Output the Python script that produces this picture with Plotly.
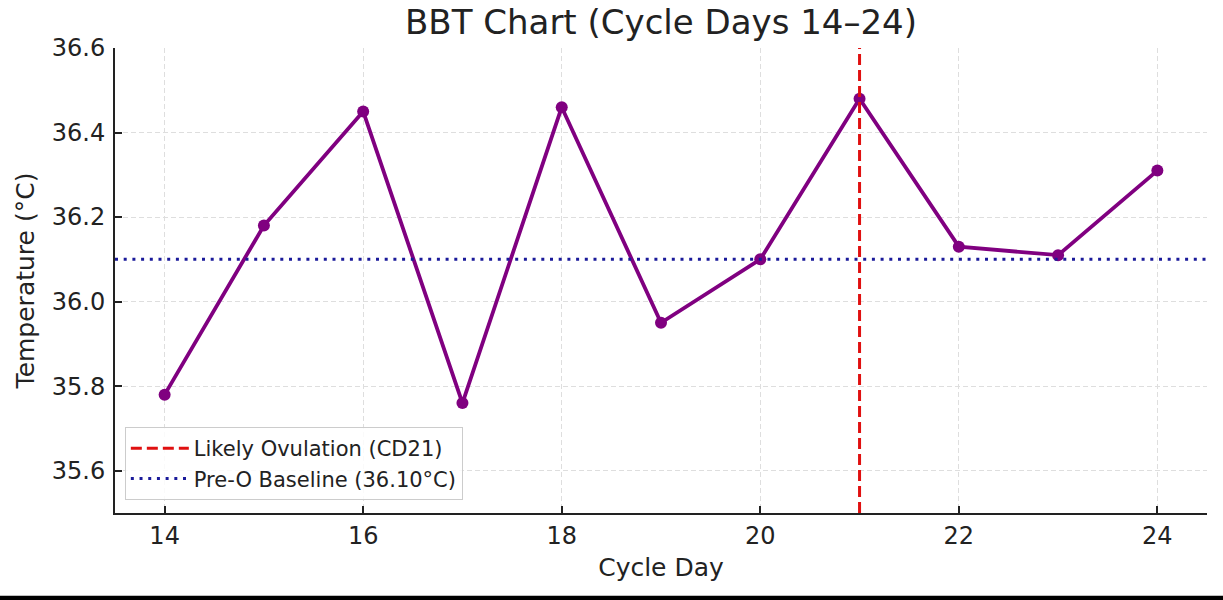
import plotly.graph_objects as go

days = [14, 15, 16, 17, 18, 19, 20, 21, 22, 23, 24]
temps = [35.78, 36.18, 36.45, 35.76, 36.46, 35.95, 36.10, 36.48, 36.13, 36.11, 36.31]
ovulation_day = 21
baseline = 36.10
x_ticks = [14, 16, 18, 20, 22, 24]
y_ticks = [35.6, 35.8, 36.0, 36.2, 36.4, 36.6]

FONT = "DejaVu Sans"
fig = go.Figure()

fig.add_trace(go.Scatter(
    x=days, y=temps, mode="lines+markers",
    line=dict(color="#800080", width=3.8),
    marker=dict(color="#800080", size=12),
    showlegend=False,
))
fig.add_trace(go.Scatter(
    x=[ovulation_day, ovulation_day], y=[35.5, 36.6], mode="lines",
    line=dict(color="#e01010", width=3, dash="11px,5px"),
    name="Likely Ovulation (CD21)",
))
fig.add_trace(go.Scatter(
    x=[13.5, 24.5], y=[baseline, baseline], mode="lines",
    line=dict(color="#1a1a9a", width=3, dash="3px,5.7px"),
    name="Pre-O Baseline (36.10°C)",
))

axis_common = dict(
    showline=True, linecolor="#222", linewidth=2,
    ticks="inside", tickcolor="#222", ticklen=7, tickwidth=1.5,
    showgrid=True, gridcolor="#dedede", griddash="5px,3px", gridwidth=1,
    zeroline=False, tickfont=dict(family=FONT, size=24, color="#222"),
    mirror=False, automargin=False,
)

fig.update_layout(
    width=1223, height=600,
    margin=dict(l=115, r=16, t=48, b=87),
    paper_bgcolor="white", plot_bgcolor="white",
    font=dict(family=FONT, color="#222"),
    title=dict(text="BBT Chart (Cycle Days 14–24)", x=0.5, xref="paper", xanchor="center",
               y=0.963, yanchor="middle", font=dict(family=FONT, size=34, color="#222")),
    xaxis=dict(range=[13.5, 24.5], tickvals=x_ticks, ticklabelstandoff=0,
               title=dict(text="Cycle Day", font=dict(family=FONT, size=25, color="#222"), standoff=10),
               **axis_common),
    yaxis=dict(range=[35.5, 36.6], tickvals=y_ticks, tickformat=".1f", ticklabelstandoff=3,
               title=dict(text="Temperature (°C)", font=dict(family=FONT, size=25, color="#222"), standoff=10),
               **axis_common),
    legend=dict(x=0.009, y=0.028, xanchor="left", yanchor="bottom", itemwidth=58,
                bgcolor="rgba(255,255,255,0.85)", bordercolor="#cccccc", borderwidth=1,
                font=dict(family=FONT, size=21, color="#222")),
    shapes=[dict(type="rect", xref="paper", yref="paper", x0=-0.2, x1=1.1,
                 y0=-0.2, y1=-0.178, fillcolor="black", line=dict(width=0), layer="above")],
)

fig.write_html("out.html", config={"displayModeBar": False},
               post_script="document.body.style.margin='0';document.body.style.overflow='hidden';")
